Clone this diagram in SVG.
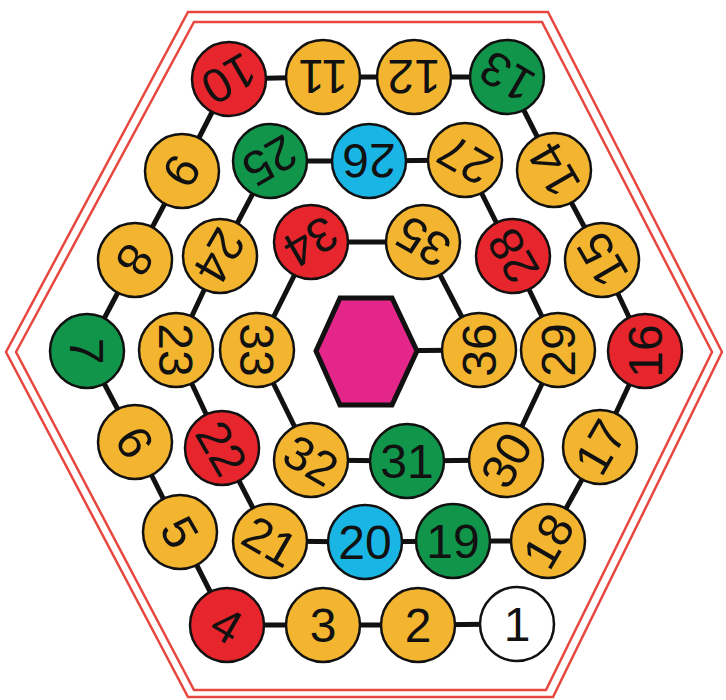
<svg xmlns="http://www.w3.org/2000/svg" width="726" height="700" viewBox="0 0 726 700">
<style>
.frame{fill:none;stroke:#e8473f;stroke-width:2.5;stroke-linejoin:miter}
.con line{stroke:#111;stroke-width:5}
circle{stroke:#111;stroke-width:2.5}
.y{fill:#f3b52f}.r{fill:#e6262c}.g{fill:#11954b}.c{fill:#19b5e5}.w{fill:#ffffff}
text{font-family:"Liberation Sans",Arial,sans-serif;font-size:48px;fill:#111;text-anchor:middle}
.hex{fill:#e4268a;stroke:#111;stroke-width:5;stroke-linejoin:miter}
</style>
<rect width="726" height="700" fill="#ffffff"/>
<g id="frame">
<polygon class="frame" points="6,352 188,12 548,12 722,352 553,697 188,697"/>
<polygon class="frame" points="16,352 194,22 542,22 712,352 546,690 194,690"/>
</g>
<g id="connectors" class="con">
<line x1="517" y1="624" x2="418" y2="625"/>
<line x1="418" y1="625" x2="323" y2="625"/>
<line x1="323" y1="625" x2="227" y2="625"/>
<line x1="227" y1="625" x2="180" y2="532"/>
<line x1="180" y1="532" x2="135" y2="442"/>
<line x1="135" y1="442" x2="87" y2="351"/>
<line x1="87" y1="351" x2="135" y2="260"/>
<line x1="135" y1="260" x2="182" y2="171"/>
<line x1="182" y1="171" x2="229" y2="79"/>
<line x1="229" y1="79" x2="323" y2="77"/>
<line x1="323" y1="77" x2="414" y2="77"/>
<line x1="414" y1="77" x2="507" y2="77"/>
<line x1="507" y1="77" x2="554" y2="170"/>
<line x1="554" y1="170" x2="602" y2="260"/>
<line x1="602" y1="260" x2="645" y2="351"/>
<line x1="645" y1="351" x2="600" y2="447"/>
<line x1="600" y1="447" x2="548" y2="541"/>
<line x1="548" y1="541" x2="453" y2="541"/>
<line x1="453" y1="541" x2="365" y2="542"/>
<line x1="365" y1="542" x2="270" y2="541"/>
<line x1="270" y1="541" x2="222" y2="448"/>
<line x1="222" y1="448" x2="176" y2="350"/>
<line x1="176" y1="350" x2="220" y2="256"/>
<line x1="220" y1="256" x2="270" y2="161"/>
<line x1="270" y1="161" x2="369" y2="161"/>
<line x1="369" y1="161" x2="465" y2="160"/>
<line x1="465" y1="160" x2="513" y2="256"/>
<line x1="513" y1="256" x2="558" y2="350"/>
<line x1="558" y1="350" x2="506" y2="460"/>
<line x1="506" y1="460" x2="407" y2="461"/>
<line x1="407" y1="461" x2="311" y2="460"/>
<line x1="311" y1="460" x2="257" y2="350"/>
<line x1="257" y1="350" x2="311" y2="242"/>
<line x1="311" y1="242" x2="423" y2="242"/>
<line x1="423" y1="242" x2="479" y2="350"/>
<line x1="479" y1="350" x2="366" y2="351"/>
</g>
<g id="center"><polygon class="hex" points="316,351 340,298 392,298 417,351 392,405 340,405"/></g>
<g id="n1" transform="translate(517,624)"><circle r="37" class="w"/><text y="17">1</text></g>
<g id="n2" transform="translate(418,625)"><circle r="37" class="y"/><text y="17">2</text></g>
<g id="n3" transform="translate(323,625)"><circle r="37" class="y"/><text y="17">3</text></g>
<g id="n4" transform="translate(227,625)"><circle r="37" class="r"/><text transform="rotate(30)" y="17">4</text></g>
<g id="n5" transform="translate(180,532)"><circle r="37" class="y"/><text transform="rotate(60)" y="17">5</text></g>
<g id="n6" transform="translate(135,442)"><circle r="37" class="y"/><text transform="rotate(60)" y="17">6</text></g>
<g id="n7" transform="translate(87,351)"><circle r="37" class="g"/><text transform="rotate(90)" y="17">7</text></g>
<g id="n8" transform="translate(135,260)"><circle r="37" class="y"/><text transform="rotate(120)" y="17">8</text></g>
<g id="n9" transform="translate(182,171)"><circle r="37" class="y"/><text transform="rotate(120)" y="17">9</text></g>
<g id="n10" transform="translate(229,79)"><circle r="37" class="r"/><text transform="rotate(150)" y="17">10</text></g>
<g id="n11" transform="translate(323,77)"><circle r="37" class="y"/><text transform="rotate(180)" y="17">11</text></g>
<g id="n12" transform="translate(414,77)"><circle r="37" class="y"/><text transform="rotate(180)" y="17">12</text></g>
<g id="n13" transform="translate(507,77)"><circle r="37" class="g"/><text transform="rotate(210)" y="17">13</text></g>
<g id="n14" transform="translate(554,170)"><circle r="37" class="y"/><text transform="rotate(240)" y="17">14</text></g>
<g id="n15" transform="translate(602,260)"><circle r="37" class="y"/><text transform="rotate(240)" y="17">15</text></g>
<g id="n16" transform="translate(645,351)"><circle r="37" class="r"/><text transform="rotate(270)" y="17">16</text></g>
<g id="n17" transform="translate(600,447)"><circle r="37" class="y"/><text transform="rotate(300)" y="17">17</text></g>
<g id="n18" transform="translate(548,541)"><circle r="37" class="y"/><text transform="rotate(300)" y="17">18</text></g>
<g id="n19" transform="translate(453,541)"><circle r="37" class="g"/><text y="17">19</text></g>
<g id="n20" transform="translate(365,542)"><circle r="37" class="c"/><text y="17">20</text></g>
<g id="n21" transform="translate(270,541)"><circle r="37" class="y"/><text transform="rotate(30)" y="17">21</text></g>
<g id="n22" transform="translate(222,448)"><circle r="37" class="r"/><text transform="rotate(60)" y="17">22</text></g>
<g id="n23" transform="translate(176,350)"><circle r="37" class="y"/><text transform="rotate(90)" y="17">23</text></g>
<g id="n24" transform="translate(220,256)"><circle r="37" class="y"/><text transform="rotate(120)" y="17">24</text></g>
<g id="n25" transform="translate(270,161)"><circle r="37" class="g"/><text transform="rotate(150)" y="17">25</text></g>
<g id="n26" transform="translate(369,161)"><circle r="37" class="c"/><text transform="rotate(180)" y="17">26</text></g>
<g id="n27" transform="translate(465,160)"><circle r="37" class="y"/><text transform="rotate(210)" y="17">27</text></g>
<g id="n28" transform="translate(513,256)"><circle r="37" class="r"/><text transform="rotate(240)" y="17">28</text></g>
<g id="n29" transform="translate(558,350)"><circle r="37" class="y"/><text transform="rotate(270)" y="17">29</text></g>
<g id="n30" transform="translate(506,460)"><circle r="37" class="y"/><text transform="rotate(300)" y="17">30</text></g>
<g id="n31" transform="translate(407,461)"><circle r="37" class="g"/><text y="17">31</text></g>
<g id="n32" transform="translate(311,460)"><circle r="37" class="y"/><text transform="rotate(30)" y="17">32</text></g>
<g id="n33" transform="translate(257,350)"><circle r="37" class="y"/><text transform="rotate(90)" y="17">33</text></g>
<g id="n34" transform="translate(311,242)"><circle r="37" class="r"/><text transform="rotate(150)" y="17">34</text></g>
<g id="n35" transform="translate(423,242)"><circle r="37" class="y"/><text transform="rotate(210)" y="17">35</text></g>
<g id="n36" transform="translate(479,350)"><circle r="37" class="y"/><text transform="rotate(270)" y="17">36</text></g>
</svg>
